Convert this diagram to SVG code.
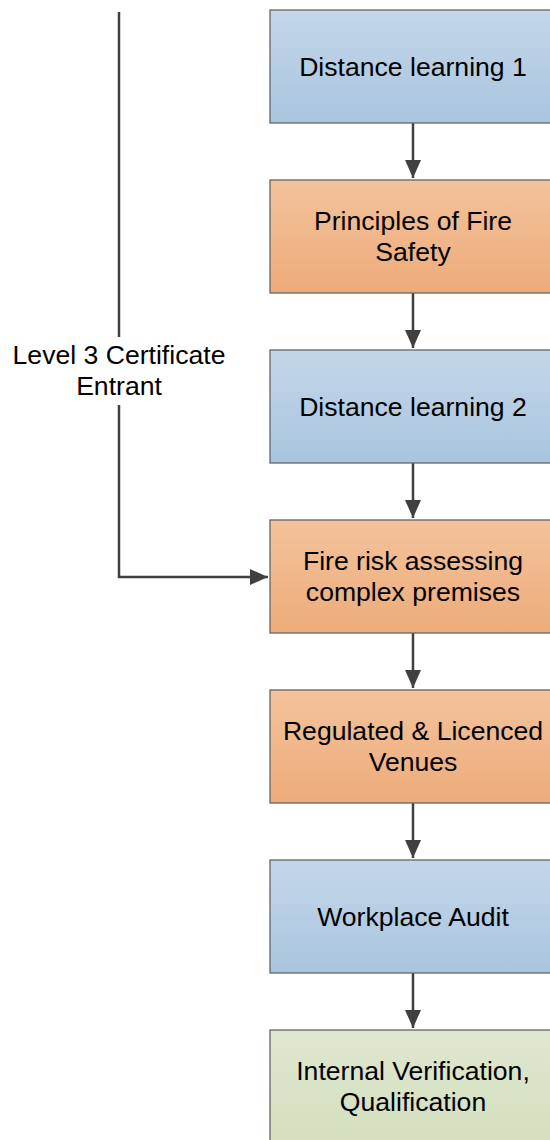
<svg xmlns="http://www.w3.org/2000/svg" width="550" height="1140" viewBox="0 0 550 1140">
<style>
text{font-family:"Liberation Sans",Arial,sans-serif;font-size:26.6px;fill:#000;text-anchor:middle}
.box{stroke:#666;stroke-width:1.3}
.con{fill:none;stroke:#404040;stroke-width:2.5}
</style>
<defs>
<linearGradient id="blue" x1="0" y1="0" x2="0" y2="1"><stop offset="0" stop-color="#c3d6e9"/><stop offset="1" stop-color="#a9c5df"/></linearGradient>
<linearGradient id="orange" x1="0" y1="0" x2="0" y2="1"><stop offset="0" stop-color="#f3c39c"/><stop offset="1" stop-color="#edab79"/></linearGradient>
<linearGradient id="green" x1="0" y1="0" x2="0" y2="1"><stop offset="0" stop-color="#dfe7cf"/><stop offset="1" stop-color="#d3dfbe"/></linearGradient>
<marker id="arrv" markerWidth="20" markerHeight="20" refX="18" refY="8" orient="auto" markerUnits="userSpaceOnUse" viewBox="0 0 20 16"><path d="M0,0 L18,8 L0,16 Z" fill="#404040"/></marker>
</defs>
<g id="connectors">
<path class="con" d="M413,123 V178" marker-end="url(#arrv)"/>
<path class="con" d="M413,293 V348" marker-end="url(#arrv)"/>
<path class="con" d="M413,463 V518" marker-end="url(#arrv)"/>
<path class="con" d="M413,633 V688" marker-end="url(#arrv)"/>
<path class="con" d="M413,803 V858" marker-end="url(#arrv)"/>
<path class="con" d="M413,973 V1028" marker-end="url(#arrv)"/>
<path class="con" d="M119,12 V337"/>
<path class="con" d="M119,405 V577 H268" marker-end="url(#arrv)"/>
<g id="label-entrant"><text x="119" y="364">Level 3 Certificate</text><text x="119" y="395">Entrant</text></g>
</g>
<g id="n1"><rect class="box" x="270" y="10" width="286" height="113" fill="url(#blue)"/><text x="413" y="76">Distance learning 1</text></g>
<g id="n2"><rect class="box" x="270" y="180" width="286" height="113" fill="url(#orange)"/><text x="413" y="230">Principles of Fire</text><text x="413" y="261">Safety</text></g>
<g id="n3"><rect class="box" x="270" y="350" width="286" height="113" fill="url(#blue)"/><text x="413" y="416">Distance learning 2</text></g>
<g id="n4"><rect class="box" x="270" y="520" width="286" height="113" fill="url(#orange)"/><text x="413" y="570">Fire risk assessing</text><text x="413" y="601">complex premises</text></g>
<g id="n5"><rect class="box" x="270" y="690" width="286" height="113" fill="url(#orange)"/><text x="413" y="740">Regulated &amp; Licenced</text><text x="413" y="771">Venues</text></g>
<g id="n6"><rect class="box" x="270" y="860" width="286" height="113" fill="url(#blue)"/><text x="413" y="926">Workplace Audit</text></g>
<g id="n7"><rect class="box" x="270" y="1030" width="286" height="120" fill="url(#green)"/><text x="413" y="1080">Internal Verification,</text><text x="413" y="1111">Qualification</text></g>
</svg>
